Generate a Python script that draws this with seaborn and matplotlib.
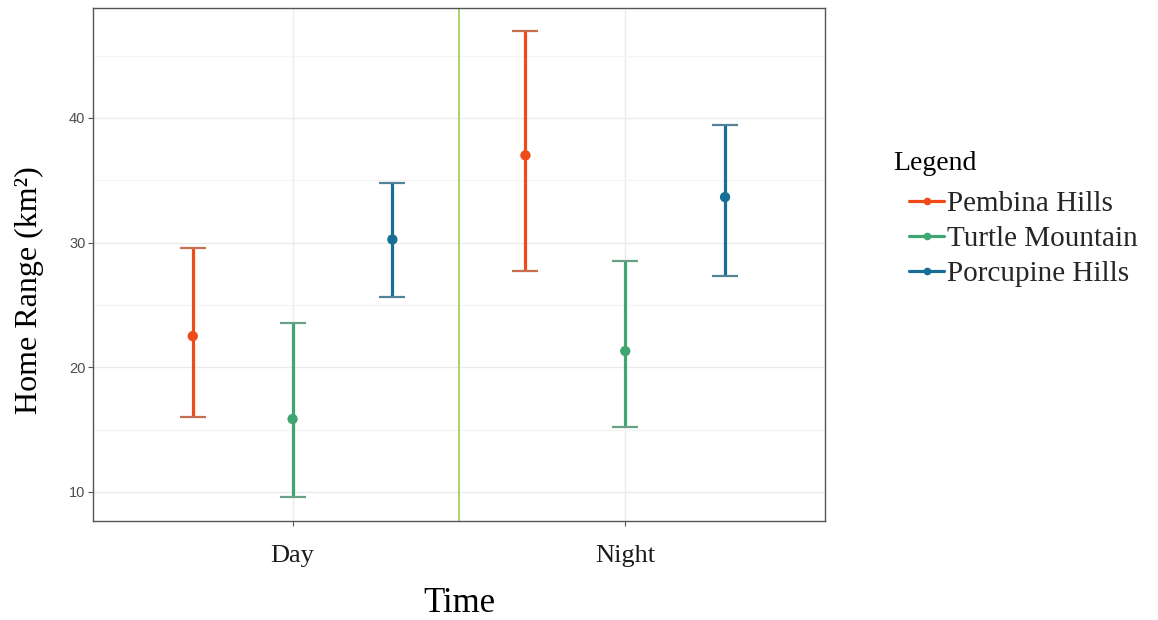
import numpy as np
import pandas as pd
import matplotlib
matplotlib.use("Agg")
import matplotlib.pyplot as plt
import matplotlib.colors as mcolors
from matplotlib.lines import Line2D
from matplotlib.ticker import FixedLocator
import seaborn as sns

# ---- data ----
times = ["Day", "Night"]
sites = ["Pembina Hills", "Turtle Mountain", "Porcupine Hills"]
mean_day = [22.5, 15.85, 30.25]
lo_day = [16.0, 9.6, 25.65]
hi_day = [29.6, 23.55, 34.8]
mean_night = [37.0, 21.3, 33.65]
lo_night = [27.7, 15.2, 27.3]
hi_night = [46.95, 28.5, 39.45]
colors = ["#EE4B18", "#3FA672", "#176E96"]

rows = []
for ti, (m, lo, hi) in enumerate([(mean_day, lo_day, hi_day), (mean_night, lo_night, hi_night)]):
    for si, s in enumerate(sites):
        rows.append(dict(Time=times[ti], Site=s, ti=ti, si=si, mean=m[si], lo=lo[si], hi=hi[si]))
df = pd.DataFrame(rows)
dodge = 0.3
df["xpos"] = df["ti"] + (df["si"] - 1) * dodge

sns.set_theme(style="white")
plt.rcParams["font.family"] = ["Liberation Serif", "DejaVu Serif"]

fig = plt.figure(figsize=(11.58, 6.2), dpi=100)
ax = fig.add_axes([0.0803, 0.1597, 0.632, 0.8274])

pal = dict(zip(sites, colors))

def blend(c, g="#9a9a9a", a=0.45):
    c1 = np.array(mcolors.to_rgb(c)); c2 = np.array(mcolors.to_rgb(g))
    return tuple(c1 * (1 - a) + c2 * a)

# grid
ax.set_axisbelow(True)
ax.yaxis.set_major_locator(FixedLocator([10, 20, 30, 40]))
ax.yaxis.set_minor_locator(FixedLocator([15, 25, 35, 45]))
ax.grid(which="major", axis="both", color="#ebebeb", lw=1.0)
ax.grid(which="minor", axis="y", color="#f4f4f4", lw=0.8)

ax.axvline(0.5, color="#a9d36e", lw=1.4, zorder=1)

capw = 0.039
for _, r in df.iterrows():
    c = pal[r["Site"]]
    ax.vlines(r["xpos"], r["lo"], r["hi"], color=c, lw=2.3, zorder=2)
    ax.hlines([r["lo"], r["hi"]], r["xpos"] - capw, r["xpos"] + capw, color=blend(c), lw=1.6, zorder=2)

sns.scatterplot(data=df, x="xpos", y="mean", hue="Site", palette=pal, s=55,
                edgecolor="none", ax=ax, legend=False, zorder=3)

ax.set_xlim(-0.6, 1.6)
ax.set_ylim(7.67, 48.82)
ax.set_xticks([0, 1])
ax.set_xticklabels(times, fontsize=19, color="#1a1a1a")
ax.tick_params(axis="y", which="major", labelsize=10.5, labelcolor="#4d4d4d", length=3.5,
               width=0.8, color="#555555", left=True, pad=2)
ax.tick_params(axis="y", which="minor", left=False)
ax.tick_params(axis="x", length=3.5, width=0.8, color="#555555", bottom=True, pad=14)
for lab in ax.get_yticklabels():
    lab.set_fontfamily(["Liberation Sans", "DejaVu Sans"])

for sp in ax.spines.values():
    sp.set_color("#555555")
    sp.set_linewidth(1.0)

ax.set_xlabel("Time", fontsize=25, color="black", labelpad=14)
ax.set_ylabel("Home Range (km²)", fontsize=23, color="black")
ax.yaxis.set_label_coords(-0.067, 0.45)

fig.text(0.771, 0.736, "Legend", fontsize=20, color="black", ha="left", va="center")
handles = [Line2D([0], [0], color=c, lw=2.3, marker="o", markersize=4.5) for c in colors]
leg = fig.legend(handles, sites, loc="upper left", bbox_to_anchor=(0.785, 0.693),
                 frameon=False, fontsize=21, handlelength=1.2, handletextpad=0.1,
                 labelspacing=0.3, borderpad=0, borderaxespad=0)

fig.savefig("out.png", dpi=100)
